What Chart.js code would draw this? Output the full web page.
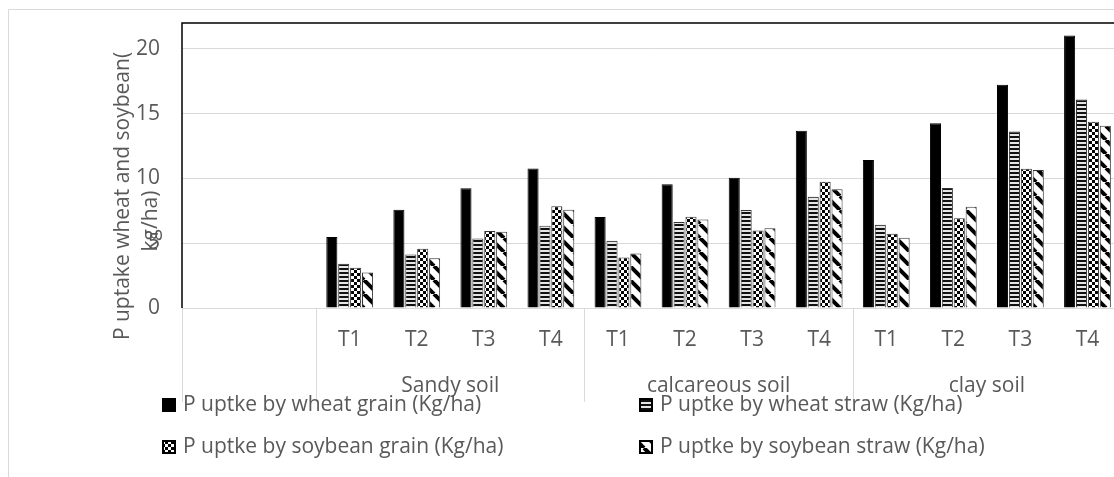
<!DOCTYPE html>
<html>
<head>
<meta charset="utf-8">
<script src="https://cdn.jsdelivr.net/npm/chart.js@4.4.1/dist/chart.umd.min.js"></script>
<style>
  html, body { margin: 0; padding: 0; background: #fff; overflow: hidden; }
  #uptakeChart { position: absolute; left: 0; top: 0; }
</style>
</head>
<body>
<canvas id="uptakeChart" width="1132" height="477"></canvas>
<script>
// Treatments along the x axis (two empty slots before Sandy soil, like the sheet)
const treatments = ['', '', 'T1', 'T2', 'T3', 'T4', 'T1', 'T2', 'T3', 'T4', 'T1', 'T2', 'T3', 'T4'];

// Soil groups shown under the treatments
const soilLabels = ['', 'Sandy soil', 'calcareous soil', 'clay soil'];
const soilSpans = [2, 4, 4, 4];

// Series names (as in the legend)
const seriesNames = [
    'P uptke by wheat grain (Kg/ha)',
    'P uptke by wheat straw (Kg/ha)',
    'P uptke by soybean grain (Kg/ha)',
    'P uptke by soybean straw (Kg/ha)'
];

// Values in Kg/ha
const wheatGrain = [null, null, 5.49, 7.59, 9.24, 10.76, 7.02, 9.55, 10.06, 13.68, 11.43, 14.27, 17.24, 21.03];
const wheatStraw = [null, null, 3.41, 4.13, 5.37, 6.35, 5.19, 6.63, 7.56, 8.59, 6.42, 9.26, 13.62, 16.10];
const soybeanGrain = [null, null, 3.10, 4.57, 5.94, 7.85, 3.90, 7.04, 5.99, 9.75, 5.73, 6.92, 10.74, 14.37];
const soybeanStraw = [null, null, 2.74, 3.85, 5.88, 7.59, 4.21, 6.84, 6.15, 9.16, 5.42, 7.82, 10.66, 14.06];

// Y axis
const yTicks = [0, 5, 10, 15, 20];
const yMax = 22;
const yTitle = ['P uptake wheat and soybean(', 'kg/ha)'];

const FONT = '"Open Sans", sans-serif';
const TEXT_COLOR = '#595959';
const GRID_COLOR = '#d9d9d9';

const canvas = document.getElementById('uptakeChart');
const ctx = canvas.getContext('2d');

// Fill patterns for the hatched series
function makeTile(size, draw) {
    const c = document.createElement('canvas');
    c.width = size;
    c.height = size;
    const g = c.getContext('2d');
    g.fillStyle = '#fff';
    g.fillRect(0, 0, size, size);
    draw(g, size);
    return ctx.createPattern(c, 'repeat');
}

const stripePattern = makeTile(4, function (g) {
    g.fillStyle = '#111';
    g.fillRect(0, 0, 4, 2);
    g.fillStyle = '#e6e6e6';
    g.fillRect(0, 2, 4, 2);
});

const dotPattern = makeTile(6, function (g) {
    g.fillStyle = '#000';
    g.fillRect(0, 0, 3, 3);
    g.fillRect(3, 3, 3, 3);
});

const diagPattern = makeTile(14, function (g, s) {
    g.strokeStyle = '#000';
    g.lineWidth = 4;
    [-s, 0, s].forEach(function (k) {
        g.beginPath();
        g.moveTo(k, 0);
        g.lineTo(k + s, s);
        g.stroke();
    });
});

const fills = ['#000', stripePattern, dotPattern, diagPattern];
const borders = ['#000', '#333', '#333', '#333'];
const values = [wheatGrain, wheatStraw, soybeanGrain, soybeanStraw];

// Extra drawing: outer frame, plot frame, soil groups, axis title and legend
const decorations = {
    id: 'decorations',
    beforeDraw: function (chart) {
        const c = chart.ctx;
        c.save();
        c.strokeStyle = GRID_COLOR;
        c.lineWidth = 1;
        c.beginPath();
        c.moveTo(8.5, chart.height);
        c.lineTo(8.5, 9.5);
        c.lineTo(chart.width, 9.5);
        c.stroke();
        c.restore();
    },
    afterDraw: function (chart) {
        const c = chart.ctx;
        const area = chart.chartArea;
        const x = chart.scales.x;
        const step = (x.right - x.left) / treatments.length;

        c.save();

        // black plot frame (top and left)
        c.strokeStyle = '#000';
        c.lineWidth = 1.5;
        c.beginPath();
        c.moveTo(area.left, area.bottom);
        c.lineTo(area.left, area.top);
        c.lineTo(area.right, area.top);
        c.stroke();

        // soil group separators and labels
        c.strokeStyle = GRID_COLOR;
        c.lineWidth = 1;
        c.fillStyle = TEXT_COLOR;
        c.font = '21px ' + FONT;
        c.textAlign = 'center';
        c.textBaseline = 'middle';
        let start = 0;
        for (let i = 0; i <= soilSpans.length; i++) {
            const px = Math.round(x.left + start * step) + 0.5;
            c.beginPath();
            c.moveTo(px, area.bottom);
            c.lineTo(px, 402);
            c.stroke();
            if (i < soilSpans.length) {
                const mid = x.left + (start + soilSpans[i] / 2) * step;
                c.fillText(soilLabels[i], mid, 386);
                start += soilSpans[i];
            }
        }

        // y axis title, rotated
        c.translate(123, 196);
        c.rotate(-Math.PI / 2);
        c.fillText(yTitle[0], 0, 0);
        c.fillText(yTitle[1], -25, 28);
        c.setTransform(1, 0, 0, 1, 0, 0);

        // legend in two columns
        const cols = [162, 639];
        const rows = [405, 447];
        c.textAlign = 'left';
        chart.data.datasets.forEach(function (ds, i) {
            const bx = cols[i % 2];
            const by = rows[Math.floor(i / 2)];
            c.fillStyle = ds.backgroundColor;
            c.fillRect(bx, by - 7, 14, 14);
            c.strokeStyle = '#000';
            c.lineWidth = 2;
            c.strokeRect(bx + 1, by - 6, 12, 12);
            c.fillStyle = TEXT_COLOR;
            c.fillText(ds.label, bx + 21, by);
        });

        c.restore();
    }
};

new Chart(ctx, {
    type: 'bar',
    data: {
        labels: treatments,
        datasets: seriesNames.map(function (name, i) {
            return {
                label: name,
                data: values[i],
                backgroundColor: fills[i],
                borderColor: borders[i],
                borderWidth: 1,
                categoryPercentage: 0.71,
                barPercentage: 0.93
            };
        })
    },
    options: {
        responsive: false,
        animation: false,
        layout: { padding: { top: 23, right: 11, left: 0, bottom: 0 } },
        plugins: {
            legend: { display: false },
            tooltip: { enabled: false }
        },
        scales: {
            x: {
                grid: { display: false, drawTicks: false },
                border: { color: GRID_COLOR, width: 1 },
                ticks: {
                    color: TEXT_COLOR,
                    font: { family: FONT, size: 21 },
                    padding: 19,
                    autoSkip: false,
                    maxRotation: 0
                },
                afterFit: function (s) {
                    s.height = 169;
                    s.paddingLeft = 0;
                    s.paddingRight = 0;
                }
            },
            y: {
                min: 0,
                max: yMax,
                grid: { color: GRID_COLOR, drawTicks: false },
                border: { display: false },
                ticks: {
                    color: TEXT_COLOR,
                    font: { family: FONT, size: 21 },
                    padding: 22
                },
                afterBuildTicks: function (s) {
                    s.ticks = yTicks.map(function (v) { return { value: v }; });
                },
                afterFit: function (s) {
                    s.width = 182;
                    s.paddingTop = 0;
                    s.paddingBottom = 0;
                }
            }
        }
    },
    plugins: [decorations]
});
</script>
</body>
</html>
